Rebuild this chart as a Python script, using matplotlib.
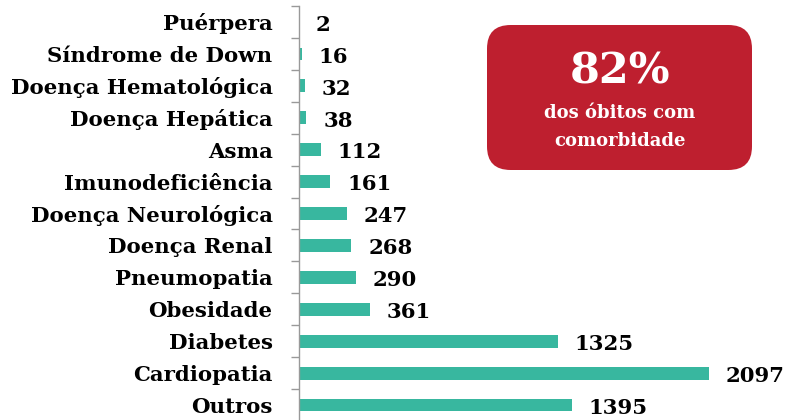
import matplotlib
matplotlib.use("Agg")
import matplotlib.pyplot as plt
from matplotlib.patches import FancyBboxPatch
import numpy as np

categories = ["Puérpera", "Síndrome de Down", "Doença Hematológica", "Doença Hepática",
              "Asma", "Imunodeficiência", "Doença Neurológica", "Doença Renal",
              "Pneumopatia", "Obesidade", "Diabetes", "Cardiopatia", "Outros"]
values = [2, 16, 32, 38, 112, 161, 247, 268, 290, 361, 1325, 2097, 1395]

box_big = "82%"
box_small = "dos óbitos com\ncomorbidade"

W, H = 787, 420
fig = plt.figure(figsize=(W/100, H/100), dpi=100)
ax = fig.add_axes([299/W, -1/H, 488/W, 415/H])

n = len(categories)
y = np.arange(n)
ax.barh(y, values, height=0.4, color="#38B79F")
ax.set_ylim(n - 0.5, -0.5)
ax.set_xlim(0, 2496)

font = "DejaVu Serif"
ax.set_yticks(y)
ax.set_yticklabels(categories, fontfamily=font, fontweight="bold", fontsize=15.3)
ax.tick_params(axis="y", which="major", length=0, pad=19)
ax.set_yticks(np.arange(-0.5, n, 1), minor=True)
ax.tick_params(axis="y", which="minor", length=6, color="#999999", width=1)
ax.set_xticks([])
for s in ["top", "right", "bottom"]:
    ax.spines[s].set_visible(False)
ax.spines["left"].set_color("#999999")
ax.spines["left"].set_linewidth(1)

for yi, v in zip(y, values):
    ax.annotate(str(v), (v, yi), xytext=(12, -2), textcoords="offset points",
                va="center", ha="left", fontfamily=font, fontweight="bold", fontsize=15.3)

box = FancyBboxPatch((487/W, 1 - 170/H), (752 - 487)/W, (170 - 25)/H,
                     boxstyle="round,pad=0,rounding_size=0.03",
                     transform=fig.transFigure, facecolor="#BE1F2F", edgecolor="none",
                     mutation_aspect=W/H)
fig.patches.append(box)
fig.text(620/W, 1 - 72/H, box_big, ha="center", va="center", color="white",
         fontfamily=font, fontweight="bold", fontsize=31)
fig.text(620/W, 1 - 127/H, box_small, ha="center", va="center", color="white",
         fontfamily=font, fontweight="bold", fontsize=13, linespacing=1.65)

fig.savefig("out.png", dpi=100)
